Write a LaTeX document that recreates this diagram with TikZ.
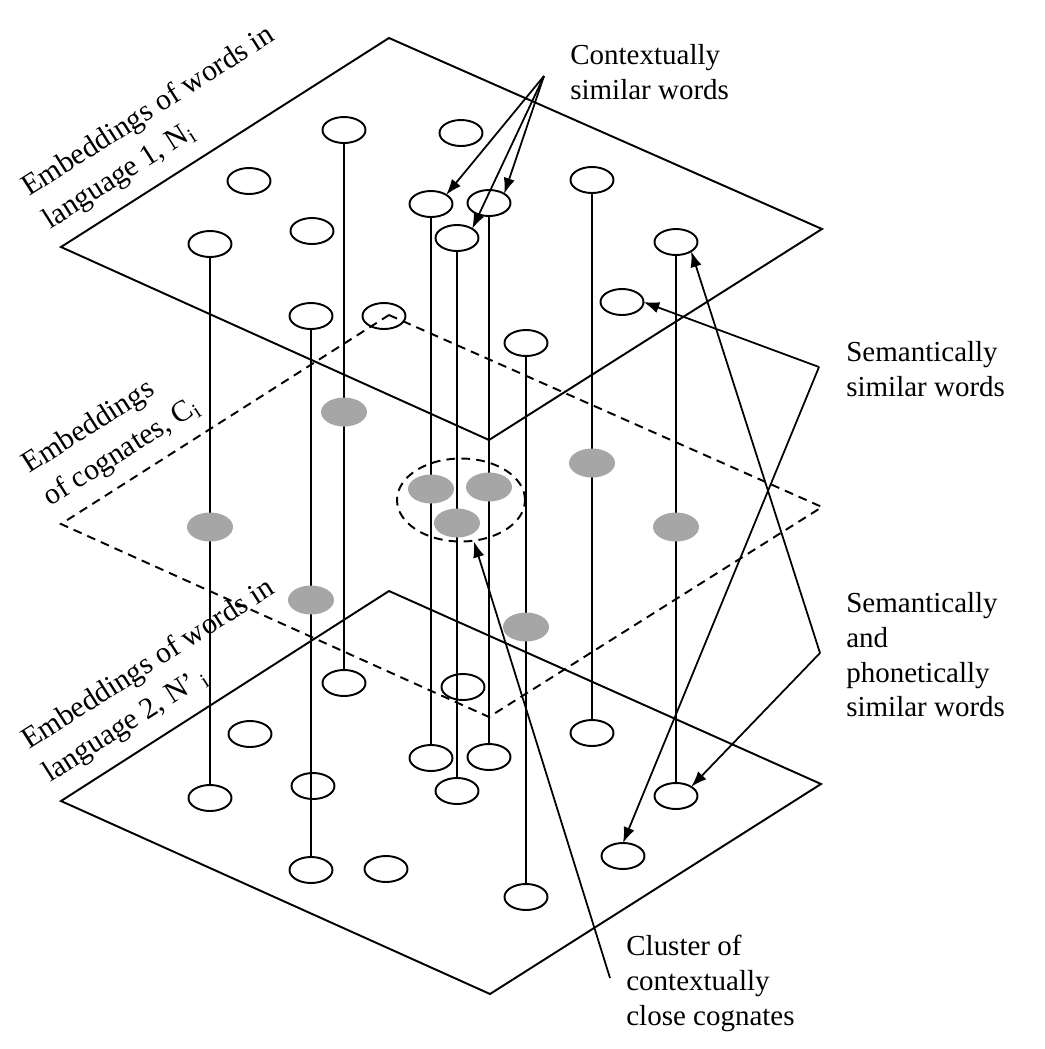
\documentclass[tikz,border=0pt]{standalone}
\usepackage{fontspec}
\setmainfont{Liberation Serif}
\usetikzlibrary{arrows.meta,shapes.geometric}
\definecolor{coggray}{HTML}{A6A6A6}

\begin{document}
\begin{tikzpicture}[x=0.02cm,y=-0.02cm,>={Latex[length=9pt,width=6.5pt]},
        word/.style={ellipse,draw,line width=1.1pt,minimum width=0.86cm,minimum height=0.52cm,inner sep=0pt,outer sep=0pt},
        cog/.style={ellipse,fill=coggray,minimum width=0.92cm,minimum height=0.58cm,inner sep=0pt},
        plane/.style={line width=1.1pt},
        link/.style={line width=1pt},
        lbl/.style={font=\fontsize{16.5}{19.8}\selectfont,align=left,inner sep=0pt},
        tilted/.style={lbl,font=\fontsize{17}{22}\selectfont,rotate=32.5,anchor=south west}]
        \useasboundingbox (0,0) rectangle (1045,1049);
        % planes
        \draw[plane] (389,38) -- (822,229) -- (489,440) -- (61,247) -- cycle;
        \draw[plane,dash pattern=on 5pt off 3.5pt] (389,315) -- (822,507) -- (489,717) -- (61,524) -- cycle;
        \draw[plane] (389,591) -- (821,784) -- (490,994) -- (61,801) -- cycle;
        \node[tilted] (l1) at (53.5,235.5) {Embeddings of words in\\language 1, N\textsubscript{i}};
        \node[tilted] (l2) at (54,512.5) {Embeddings\\of cognates, C\textsubscript{i}};
        \node[tilted] (l3) at (53.5,788.5) {Embeddings of words in\\language 2, N’\,\textsubscript{i}};
        % words, language 1
        \node[word] (t1) at (344,130) {};
        \node[word] (t2) at (461,133) {};
        \node[word] (t3) at (249,181) {};
        \node[word] (t4) at (431,204) {};
        \node[word] (t5) at (489,203) {};
        \node[word] (t6) at (592,180) {};
        \node[word] (t7) at (210,244) {};
        \node[word] (t8) at (312,231) {};
        \node[word] (t9) at (457,238) {};
        \node[word] (t10) at (676,242) {};
        \node[word] (t11) at (311,316) {};
        \node[word] (t12) at (384,316) {};
        \node[word] (t13) at (622,302) {};
        \node[word] (t14) at (526,343) {};
        % words, language 2
        \node[word] (b1) at (210,798) {};
        \node[word] (b2) at (344,683) {};
        \node[word] (b3) at (313,786) {};
        \node[word] (b4) at (311,870) {};
        \node[word] (b5) at (431,758) {};
        \node[word] (b6) at (457,791) {};
        \node[word] (b7) at (489,757) {};
        \node[word] (b8) at (592,733) {};
        \node[word] (b9) at (526,897) {};
        \node[word] (b10) at (676,796) {};
        \node[word] (b11) at (250,734) {};
        \node[word] (b12) at (463,687) {};
        \node[word] (b13) at (386,869) {};
        \node[word] (b14) at (623,856) {};
        \draw[link] (t7) -- (b1);
        \draw[link] (t1) -- (b2);
        \draw[link] (t11) -- (b4);
        \draw[link] (t4) -- (b5);
        \draw[link] (t9) -- (b6);
        \draw[link] (t5) -- (b7);
        \draw[link] (t6) -- (b8);
        \draw[link] (t14) -- (b9);
        \draw[link] (t10) -- (b10);
        % cognates
        \node[cog] (g1) at (210,527) {};
        \node[cog] (g2) at (344,412) {};
        \node[cog] (g3) at (311,600) {};
        \node[cog] (g4) at (431,489) {};
        \node[cog] (g5) at (489,487) {};
        \node[cog] (g6) at (457,523) {};
        \node[cog] (g7) at (592,463) {};
        \node[cog] (g8) at (526,627) {};
        \node[cog] (g9) at (676,527) {};
        \node[ellipse,draw,line width=1.1pt,dash pattern=on 5pt off 3.5pt,minimum width=2.56cm,minimum height=1.66cm] (clu) at (461,500) {};
        % labels
        \node[lbl,anchor=north west] (ctx) at (570,44) {Contextually\\similar words};
        \node[lbl,anchor=north west] (sem) at (846,341) {Semantically\\similar words};
        \node[lbl,anchor=north west] (phon) at (846,592) {Semantically\\and\\phonetically\\similar words};
        \node[lbl,anchor=north west] (clus) at (626,935) {Cluster of\\contextually\\close cognates};
        \coordinate (cs) at (544,76);
        \coordinate (ss) at (819,367);
        \coordinate (sp) at (820,653);
        \coordinate (cc) at (610,978);
        \draw[->,link] (cs) -- (t4.north east);
        \draw[->,link] (cs) -- (t5.north east);
        \draw[->,link] (cs) -- (t9.north east);
        \draw[->,link] (ss) -- (t13.east);
        \draw[->,link] (ss) -- (b14.north);
        \draw[->,link] (sp) -- (t10.south east);
        \draw[->,link] (sp) -- (b10.north east);
        \draw[->,link] (cc) -- (clu);
    \end{tikzpicture}
\end{document}
